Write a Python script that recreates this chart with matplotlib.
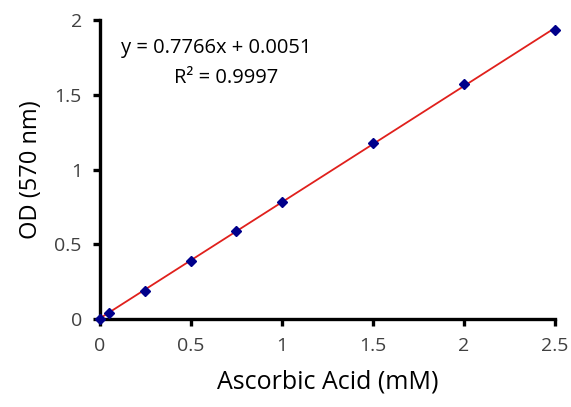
import matplotlib
matplotlib.use("Agg")
import matplotlib.pyplot as plt
import numpy as np

plt.rcParams['font.family'] = ['Open Sans', 'DejaVu Sans']

conc = [0, 0.05, 0.25, 0.5, 0.75, 1.0, 1.5, 2.0, 2.5]
od = [0.0, 0.04, 0.19, 0.39, 0.59, 0.78, 1.18, 1.57, 1.93]
slope = 0.7766
intercept = 0.0051
xticks = [0, 0.5, 1, 1.5, 2, 2.5]
xticklabels = ['0', '0.5', '1', '1.5', '2', '2.5']
yticks = [0, 0.5, 1, 1.5, 2]
yticklabels = ['0', '0.5', '1', '1.5', '2']

fig = plt.figure(figsize=(5.71, 4.07), dpi=100)
ax = fig.add_axes([0.175, 0.216, 0.797, 0.735])

xl = np.array([0, 2.5])
ax.plot(xl, slope * xl + intercept, color='#e0201c', lw=1.3, zorder=2)
ax.plot(conc, od, linestyle='none', marker='D', ms=5.5, color='#00008b', zorder=3, clip_on=False)

ax.set_xlim(0, 2.5)
ax.set_ylim(0, 2)
ax.set_xticks(xticks)
ax.set_xticklabels(xticklabels)
ax.set_yticks(yticks)
ax.set_yticklabels(yticklabels)
for s in ['top', 'right']:
    ax.spines[s].set_visible(False)
for s in ['left', 'bottom']:
    ax.spines[s].set_linewidth(2.4)
ax.tick_params(direction='out', length=5, width=2.4, labelsize=14, labelcolor='#404040', pad=8)

ax.set_xlabel('Ascorbic Acid (mM)', fontsize=18, labelpad=10)
ax.set_ylabel('OD (570 nm)', fontsize=17, labelpad=8)

ax.text(0.255, 0.905, 'y = 0.7766x + 0.0051', transform=ax.transAxes, ha='center', va='center', fontsize=14.5)
ax.text(0.277, 0.805, 'R² = 0.9997', transform=ax.transAxes, ha='center', va='center', fontsize=14.5)

fig.savefig('out.png', dpi=100)
